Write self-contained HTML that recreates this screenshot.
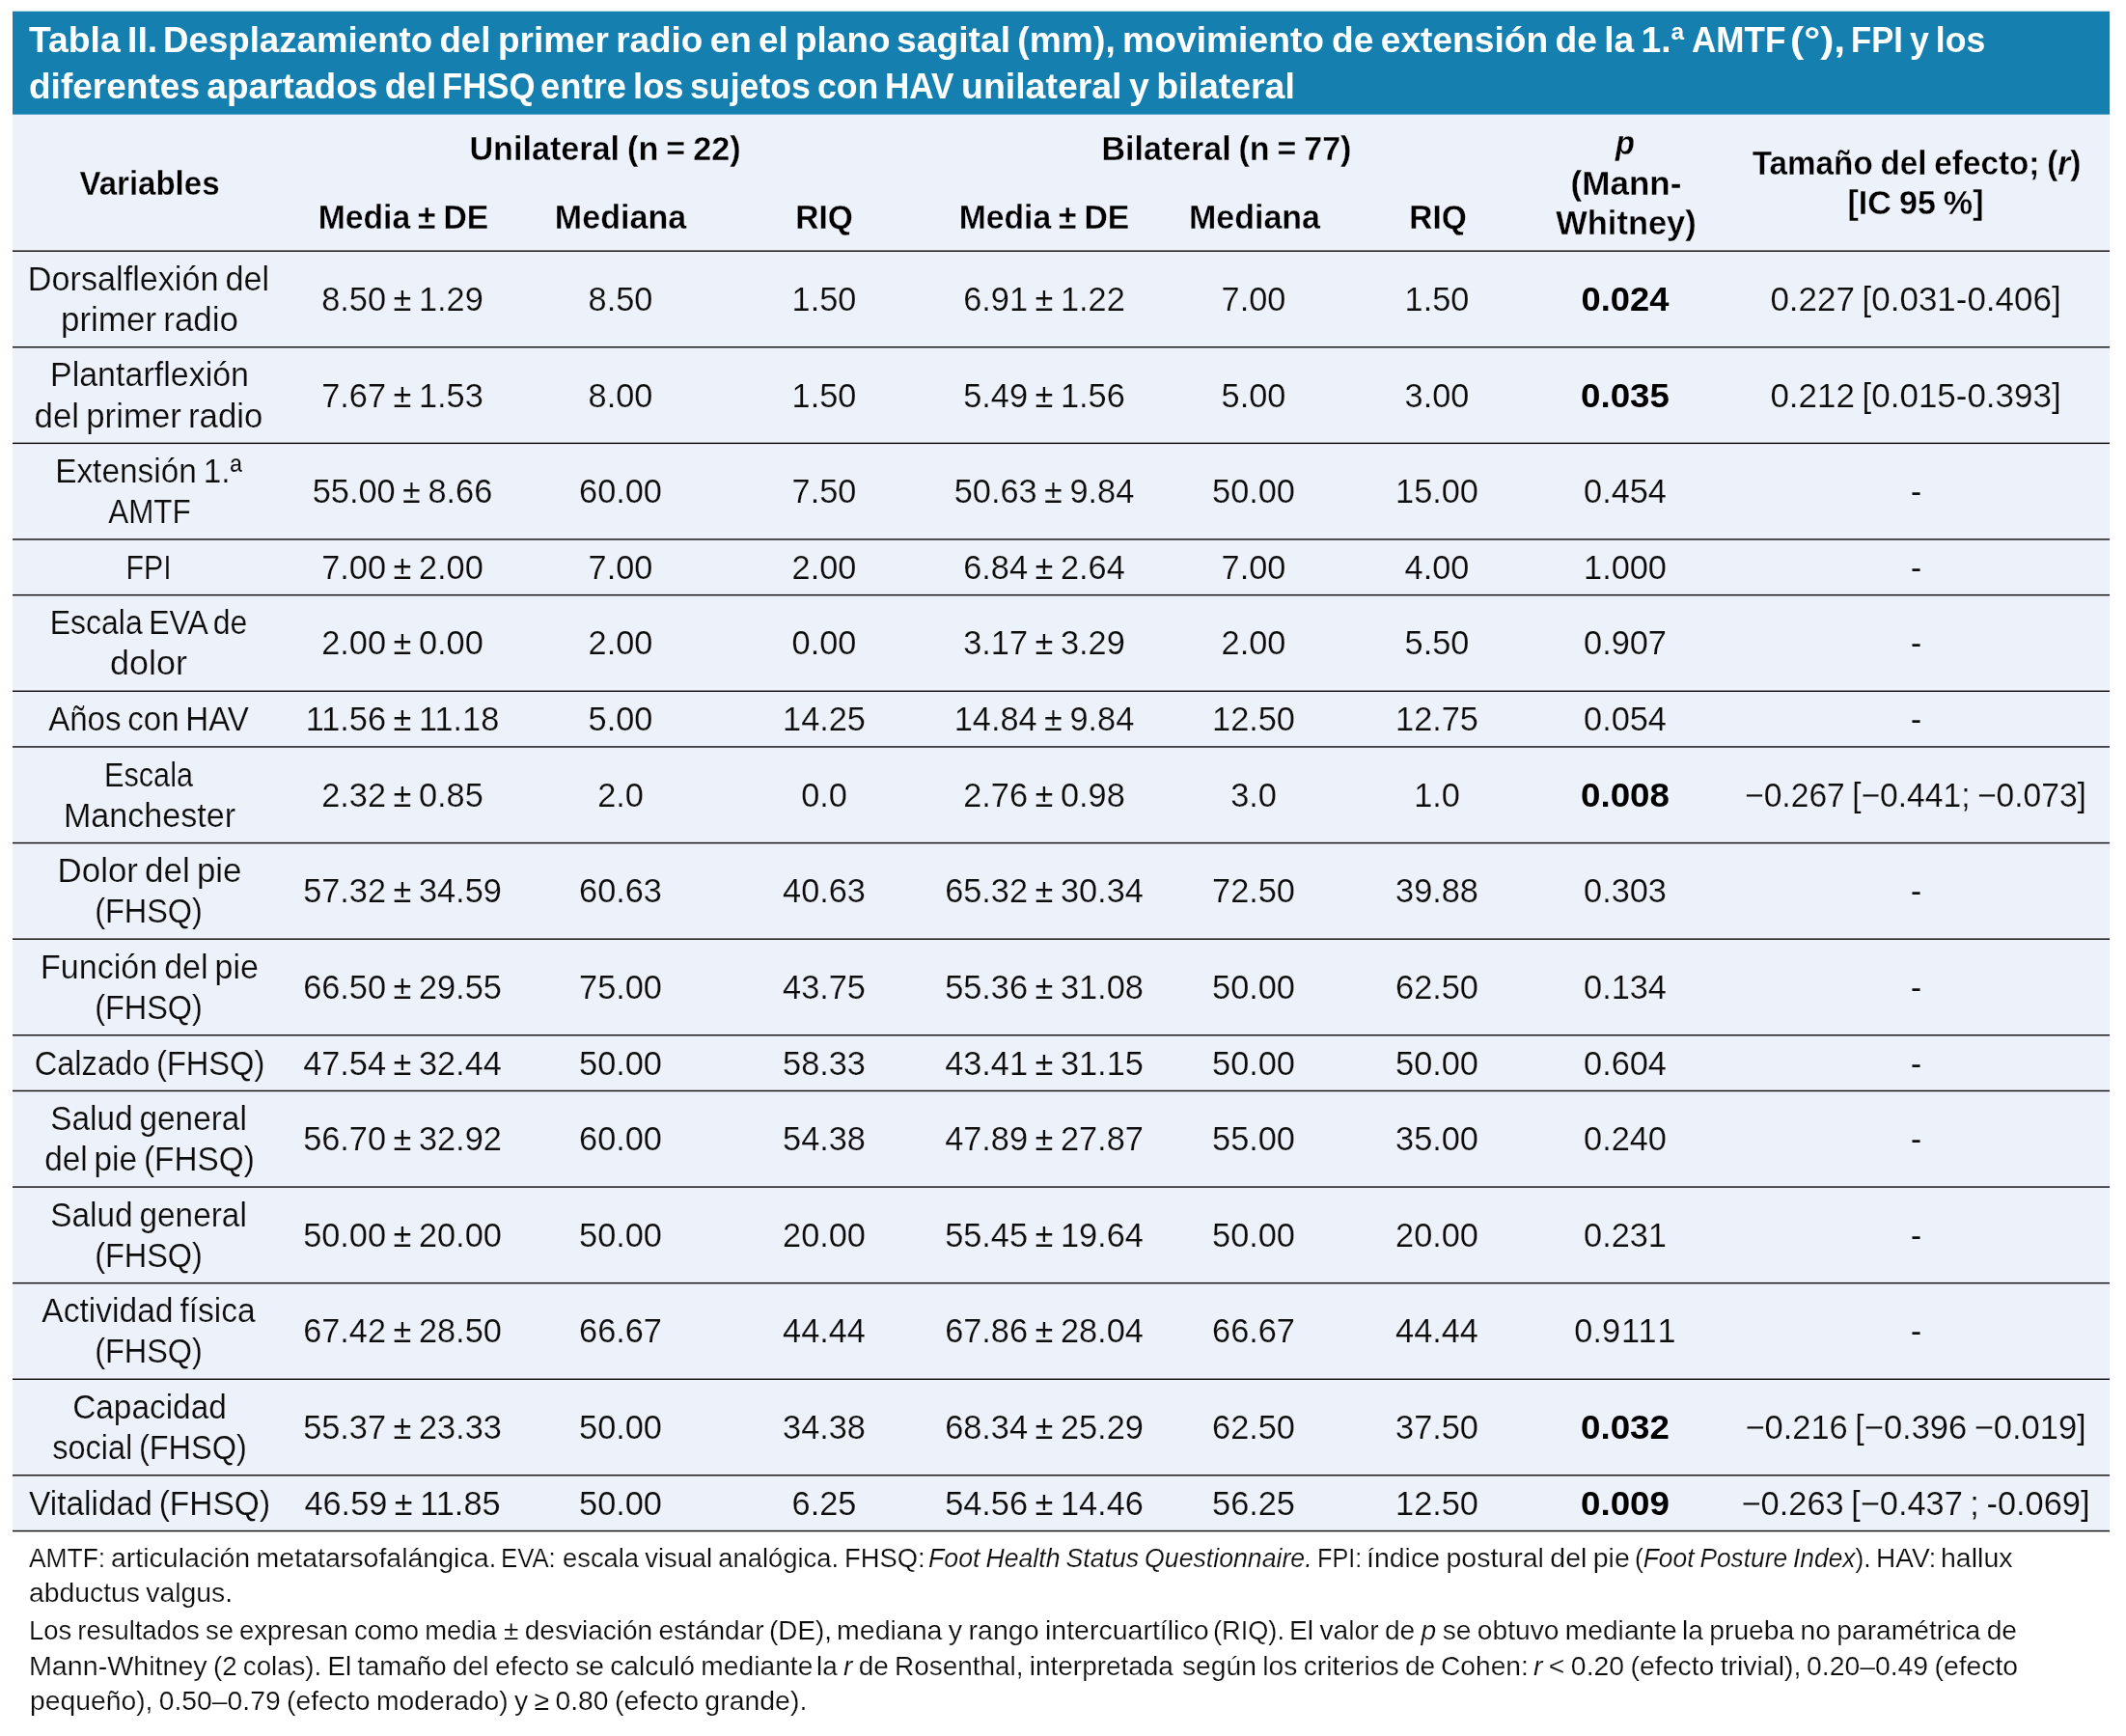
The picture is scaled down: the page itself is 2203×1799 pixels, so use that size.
<!DOCTYPE html>
<html lang="es"><head><meta charset="utf-8"><title>Tabla II</title>
<style>
html,body{margin:0;padding:0;background:#fff;}
body{position:relative;width:2203px;height:1799px;overflow:hidden;font-family:"Liberation Sans", sans-serif;color:#0d0d0d;}
.t{position:absolute;white-space:pre;line-height:0;height:0;}
.c{transform-origin:50% 50%;}
.l{transform-origin:0 50%;}
.b{font-weight:700;}
.th{-webkit-text-stroke:0.2px #edf1f9;}
.tf{-webkit-text-stroke:0.2px #ffffff;}
.thb{-webkit-text-stroke:0.3px #edf1f9;}
i{font-style:italic;}
#w{position:absolute;left:0;top:0;width:2203px;height:1799px;will-change:transform;}
</style></head><body><div id="w">
<svg width="2203" height="1799" viewBox="0 0 2203 1799" style="position:absolute;left:0;top:0"><rect x="13" y="98.65" width="2173.1" height="1487.90" fill="#edf1f9"/><rect x="13" y="11.7" width="2173.1" height="106.95" fill="#1580b0"/><rect x="13" y="259.45" width="2173.1" height="1.4" fill="#0a0a0a"/><rect x="13" y="359.05" width="2173.1" height="1.4" fill="#0a0a0a"/><rect x="13" y="458.65" width="2173.1" height="1.4" fill="#0a0a0a"/><rect x="13" y="558.25" width="2173.1" height="1.4" fill="#0a0a0a"/><rect x="13" y="615.95" width="2173.1" height="1.4" fill="#0a0a0a"/><rect x="13" y="715.55" width="2173.1" height="1.4" fill="#0a0a0a"/><rect x="13" y="773.25" width="2173.1" height="1.4" fill="#0a0a0a"/><rect x="13" y="872.85" width="2173.1" height="1.4" fill="#0a0a0a"/><rect x="13" y="972.45" width="2173.1" height="1.4" fill="#0a0a0a"/><rect x="13" y="1072.05" width="2173.1" height="1.4" fill="#0a0a0a"/><rect x="13" y="1129.75" width="2173.1" height="1.4" fill="#0a0a0a"/><rect x="13" y="1229.35" width="2173.1" height="1.4" fill="#0a0a0a"/><rect x="13" y="1328.95" width="2173.1" height="1.4" fill="#0a0a0a"/><rect x="13" y="1428.55" width="2173.1" height="1.4" fill="#0a0a0a"/><rect x="13" y="1528.15" width="2173.1" height="1.4" fill="#0a0a0a"/><rect x="13" y="1585.85" width="2173.1" height="1.4" fill="#0a0a0a"/></svg>
<div id="t0" class="t l b" style="top:41.02px;font-size:37.6px;color:#ffffff;word-spacing:-3.0px;left:30.00px;transform:scaleX(0.9924);">Tabla II.</div>
<div id="t1" class="t l b" style="top:41.02px;font-size:37.6px;color:#ffffff;word-spacing:-3.0px;left:169.45px;transform:scaleX(0.9759);">Desplazamiento del</div>
<div id="t2" class="t l b" style="top:41.02px;font-size:37.6px;color:#ffffff;word-spacing:-3.0px;left:515.74px;transform:scaleX(0.9818);">primer radio en el plano</div>
<div id="t3" class="t l b" style="top:41.02px;font-size:37.6px;color:#ffffff;word-spacing:-3.0px;left:928.91px;transform:scaleX(0.9910);">sagital (mm), movimiento</div>
<div id="t4" class="t l b" style="top:41.02px;font-size:37.6px;color:#ffffff;word-spacing:-3.0px;left:1380.31px;transform:scaleX(0.9889);">de extensión de la 1.ª</div>
<div id="t5" class="t l b" style="top:41.02px;font-size:37.6px;color:#ffffff;word-spacing:-3.0px;left:1752.57px;transform:scaleX(0.9324);">AMTF</div>
<div id="t6" class="t l b" style="top:41.02px;font-size:37.6px;color:#ffffff;word-spacing:-3.0px;left:1855.03px;transform:scaleX(1.1326);">(°),</div>
<div id="t7" class="t l b" style="top:41.02px;font-size:37.6px;color:#ffffff;word-spacing:-3.0px;left:1918.16px;transform:scaleX(0.9204);">FPI</div>
<div id="t8" class="t l b" style="top:41.02px;font-size:37.6px;color:#ffffff;word-spacing:-3.0px;left:1979.20px;transform:scaleX(0.9481);">y los</div>
<div id="t9" class="t l b" style="top:89.02px;font-size:37.6px;color:#ffffff;word-spacing:-3.0px;left:29.91px;transform:scaleX(0.9856);">diferentes apartados del</div>
<div id="t10" class="t l b" style="top:89.02px;font-size:37.6px;color:#ffffff;word-spacing:-3.0px;left:457.95px;transform:scaleX(0.9238);">FHSQ</div>
<div id="t11" class="t l b" style="top:89.02px;font-size:37.6px;color:#ffffff;word-spacing:-3.0px;left:559.63px;transform:scaleX(0.9669);">entre los</div>
<div id="t12" class="t l b" style="top:89.02px;font-size:37.6px;color:#ffffff;word-spacing:-3.0px;left:714.65px;transform:scaleX(0.9493);">sujetos con</div>
<div id="t13" class="t l b" style="top:89.02px;font-size:37.6px;color:#ffffff;word-spacing:-3.0px;left:916.93px;transform:scaleX(0.9333);">HAV</div>
<div id="t14" class="t l b" style="top:89.02px;font-size:37.6px;color:#ffffff;word-spacing:-3.0px;left:995.61px;transform:scaleX(0.9968);">unilateral y bilateral</div>
<div id="t15" class="t c b thb" style="top:190.02px;font-size:34.5px;color:#000000;word-spacing:-1.5px;left:155.00px;transform:translateX(-50%) scaleX(0.9573);">Variables</div>
<div id="t16" class="t c b thb" style="top:154.02px;font-size:34.5px;color:#000000;word-spacing:-1.5px;left:627.40px;transform:translateX(-50%) scaleX(0.9900);">Unilateral (n = 22)</div>
<div id="t17" class="t c b thb" style="top:154.02px;font-size:34.5px;color:#000000;word-spacing:-1.5px;left:1271.06px;transform:translateX(-50%) scaleX(0.9842);">Bilateral (n = 77)</div>
<div id="t18" class="t c b thb" style="top:225.02px;font-size:34.5px;color:#000000;word-spacing:-1.5px;left:417.96px;transform:translateX(-50%) scaleX(0.9768);">Media ± DE</div>
<div id="t19" class="t c b thb" style="top:225.02px;font-size:34.5px;color:#000000;word-spacing:-1.5px;left:642.66px;transform:translateX(-50%) scaleX(0.9875);">Mediana</div>
<div id="t20" class="t c b thb" style="top:225.02px;font-size:34.5px;color:#000000;word-spacing:-1.5px;left:854.15px;transform:translateX(-50%) scaleX(0.9707);">RIQ</div>
<div id="t21" class="t c b thb" style="top:225.02px;font-size:34.5px;color:#000000;word-spacing:-1.5px;left:1081.86px;transform:translateX(-50%) scaleX(0.9768);">Media ± DE</div>
<div id="t22" class="t c b thb" style="top:225.02px;font-size:34.5px;color:#000000;word-spacing:-1.5px;left:1299.71px;transform:translateX(-50%) scaleX(0.9853);">Mediana</div>
<div id="t23" class="t c b thb" style="top:225.02px;font-size:34.5px;color:#000000;word-spacing:-1.5px;left:1489.65px;transform:translateX(-50%) scaleX(0.9707);">RIQ</div>
<div id="t24" class="t c b thb" style="top:148.02px;font-size:34.5px;color:#000000;word-spacing:-1.5px;left:1683.85px;transform:translateX(-50%) scaleX(0.9450);"><i>p</i></div>
<div id="t25" class="t c b thb" style="top:190.02px;font-size:34.5px;color:#000000;word-spacing:-1.5px;left:1684.75px;transform:translateX(-50%) scaleX(1.0155);">(Mann-</div>
<div id="t26" class="t c b thb" style="top:231.02px;font-size:34.5px;color:#000000;word-spacing:-1.5px;left:1685.20px;transform:translateX(-50%) scaleX(0.9986);">Whitney)</div>
<div id="t27" class="t c b thb" style="top:169.02px;font-size:34.5px;color:#000000;word-spacing:-1.5px;left:1986.11px;transform:translateX(-50%) scaleX(0.9639);">Tamaño del efecto; (<i>r</i>)</div>
<div id="t28" class="t c b thb" style="top:210.02px;font-size:34.5px;color:#000000;word-spacing:-1.5px;left:1985.16px;transform:translateX(-50%) scaleX(0.9878);">[IC 95 %]</div>
<div id="t29" class="t c th" style="top:289.00px;font-size:34.7px;word-spacing:-2.5px;left:154.31px;transform:translateX(-50%) scaleX(0.9855);">Dorsalflexión del</div>
<div id="t30" class="t c th" style="top:331.00px;font-size:34.7px;word-spacing:-2.5px;left:155.15px;transform:translateX(-50%) scaleX(1.0084);">primer radio</div>
<div id="t31" class="t c th" style="top:310.00px;font-size:34.7px;word-spacing:-2.0px;left:417.20px;transform:translateX(-50%) scaleX(0.9890);">8.50 ± 1.29</div>
<div id="t32" class="t c th" style="top:310.00px;font-size:34.7px;word-spacing:-2.0px;left:643.00px;transform:translateX(-50%) scaleX(0.9890);">8.50</div>
<div id="t33" class="t c th" style="top:310.00px;font-size:34.7px;word-spacing:-2.0px;left:853.60px;transform:translateX(-50%) scaleX(0.9890);">1.50</div>
<div id="t34" class="t c th" style="top:310.00px;font-size:34.7px;word-spacing:-2.0px;left:1081.50px;transform:translateX(-50%) scaleX(0.9890);">6.91 ± 1.22</div>
<div id="t35" class="t c th" style="top:310.00px;font-size:34.7px;word-spacing:-2.0px;left:1299.30px;transform:translateX(-50%) scaleX(0.9890);">7.00</div>
<div id="t36" class="t c th" style="top:310.00px;font-size:34.7px;word-spacing:-2.0px;left:1489.40px;transform:translateX(-50%) scaleX(0.9890);">1.50</div>
<div id="t37" class="t c b" style="top:310.01px;font-size:34.9px;color:#000000;left:1683.53px;transform:translateX(-50%) scaleX(1.0402);">0.024</div>
<div id="t38" class="t c th" style="top:310.00px;font-size:34.7px;word-spacing:-2.0px;left:1985.05px;transform:translateX(-50%) scaleX(1.0078);">0.227 [0.031-0.406]</div>
<div id="t39" class="t c th" style="top:388.00px;font-size:34.7px;word-spacing:-2.5px;left:154.51px;transform:translateX(-50%) scaleX(0.9805);">Plantarflexión</div>
<div id="t40" class="t c th" style="top:431.00px;font-size:34.7px;word-spacing:-2.5px;left:154.35px;transform:translateX(-50%) scaleX(1.0038);">del primer radio</div>
<div id="t41" class="t c th" style="top:410.00px;font-size:34.7px;word-spacing:-2.0px;left:417.20px;transform:translateX(-50%) scaleX(0.9890);">7.67 ± 1.53</div>
<div id="t42" class="t c th" style="top:410.00px;font-size:34.7px;word-spacing:-2.0px;left:643.00px;transform:translateX(-50%) scaleX(0.9890);">8.00</div>
<div id="t43" class="t c th" style="top:410.00px;font-size:34.7px;word-spacing:-2.0px;left:853.60px;transform:translateX(-50%) scaleX(0.9890);">1.50</div>
<div id="t44" class="t c th" style="top:410.00px;font-size:34.7px;word-spacing:-2.0px;left:1081.50px;transform:translateX(-50%) scaleX(0.9890);">5.49 ± 1.56</div>
<div id="t45" class="t c th" style="top:410.00px;font-size:34.7px;word-spacing:-2.0px;left:1299.30px;transform:translateX(-50%) scaleX(0.9890);">5.00</div>
<div id="t46" class="t c th" style="top:410.00px;font-size:34.7px;word-spacing:-2.0px;left:1489.40px;transform:translateX(-50%) scaleX(0.9890);">3.00</div>
<div id="t47" class="t c b" style="top:410.01px;font-size:34.9px;color:#000000;left:1684.05px;transform:translateX(-50%) scaleX(1.0523);">0.035</div>
<div id="t48" class="t c th" style="top:410.00px;font-size:34.7px;word-spacing:-2.0px;left:1985.05px;transform:translateX(-50%) scaleX(1.0078);">0.212 [0.015-0.393]</div>
<div id="t49" class="t c th" style="top:488.00px;font-size:34.7px;word-spacing:-2.5px;left:153.51px;transform:translateX(-50%) scaleX(0.9623);">Extensión 1.ª</div>
<div id="t50" class="t c th" style="top:530.00px;font-size:34.7px;word-spacing:-2.5px;left:154.80px;transform:translateX(-50%) scaleX(0.9065);">AMTF</div>
<div id="t51" class="t c th" style="top:509.00px;font-size:34.7px;word-spacing:-2.0px;left:417.20px;transform:translateX(-50%) scaleX(0.9890);">55.00 ± 8.66</div>
<div id="t52" class="t c th" style="top:509.00px;font-size:34.7px;word-spacing:-2.0px;left:643.00px;transform:translateX(-50%) scaleX(0.9890);">60.00</div>
<div id="t53" class="t c th" style="top:509.00px;font-size:34.7px;word-spacing:-2.0px;left:853.60px;transform:translateX(-50%) scaleX(0.9890);">7.50</div>
<div id="t54" class="t c th" style="top:509.00px;font-size:34.7px;word-spacing:-2.0px;left:1081.50px;transform:translateX(-50%) scaleX(0.9890);">50.63 ± 9.84</div>
<div id="t55" class="t c th" style="top:509.00px;font-size:34.7px;word-spacing:-2.0px;left:1299.30px;transform:translateX(-50%) scaleX(0.9890);">50.00</div>
<div id="t56" class="t c th" style="top:509.00px;font-size:34.7px;word-spacing:-2.0px;left:1489.40px;transform:translateX(-50%) scaleX(0.9890);">15.00</div>
<div id="t57" class="t c th" style="top:509.00px;font-size:34.7px;left:1684.00px;transform:translateX(-50%) scaleX(0.9890);">0.454</div>
<div id="t58" class="t c th" style="top:509.00px;font-size:34.7px;left:1985.60px;transform:translateX(-50%);">-</div>
<div id="t59" class="t c th" style="top:588.00px;font-size:34.7px;word-spacing:-2.5px;left:154.45px;transform:translateX(-50%) scaleX(0.8729);">FPI</div>
<div id="t60" class="t c th" style="top:588.00px;font-size:34.7px;word-spacing:-2.0px;left:417.20px;transform:translateX(-50%) scaleX(0.9890);">7.00 ± 2.00</div>
<div id="t61" class="t c th" style="top:588.00px;font-size:34.7px;word-spacing:-2.0px;left:643.00px;transform:translateX(-50%) scaleX(0.9890);">7.00</div>
<div id="t62" class="t c th" style="top:588.00px;font-size:34.7px;word-spacing:-2.0px;left:853.60px;transform:translateX(-50%) scaleX(0.9890);">2.00</div>
<div id="t63" class="t c th" style="top:588.00px;font-size:34.7px;word-spacing:-2.0px;left:1081.50px;transform:translateX(-50%) scaleX(0.9890);">6.84 ± 2.64</div>
<div id="t64" class="t c th" style="top:588.00px;font-size:34.7px;word-spacing:-2.0px;left:1299.30px;transform:translateX(-50%) scaleX(0.9890);">7.00</div>
<div id="t65" class="t c th" style="top:588.00px;font-size:34.7px;word-spacing:-2.0px;left:1489.40px;transform:translateX(-50%) scaleX(0.9890);">4.00</div>
<div id="t66" class="t c th" style="top:588.00px;font-size:34.7px;left:1684.00px;transform:translateX(-50%) scaleX(0.9890);">1.000</div>
<div id="t67" class="t c th" style="top:588.00px;font-size:34.7px;left:1985.60px;transform:translateX(-50%);">-</div>
<div id="t68" class="t c th" style="top:645.00px;font-size:34.7px;word-spacing:-2.5px;left:154.08px;transform:translateX(-50%) scaleX(0.9220);">Escala EVA de</div>
<div id="t69" class="t c th" style="top:687.00px;font-size:34.7px;word-spacing:-2.5px;left:154.43px;transform:translateX(-50%) scaleX(1.0360);">dolor</div>
<div id="t70" class="t c th" style="top:666.00px;font-size:34.7px;word-spacing:-2.0px;left:417.20px;transform:translateX(-50%) scaleX(0.9890);">2.00 ± 0.00</div>
<div id="t71" class="t c th" style="top:666.00px;font-size:34.7px;word-spacing:-2.0px;left:643.00px;transform:translateX(-50%) scaleX(0.9890);">2.00</div>
<div id="t72" class="t c th" style="top:666.00px;font-size:34.7px;word-spacing:-2.0px;left:853.60px;transform:translateX(-50%) scaleX(0.9890);">0.00</div>
<div id="t73" class="t c th" style="top:666.00px;font-size:34.7px;word-spacing:-2.0px;left:1081.50px;transform:translateX(-50%) scaleX(0.9890);">3.17 ± 3.29</div>
<div id="t74" class="t c th" style="top:666.00px;font-size:34.7px;word-spacing:-2.0px;left:1299.30px;transform:translateX(-50%) scaleX(0.9890);">2.00</div>
<div id="t75" class="t c th" style="top:666.00px;font-size:34.7px;word-spacing:-2.0px;left:1489.40px;transform:translateX(-50%) scaleX(0.9890);">5.50</div>
<div id="t76" class="t c th" style="top:666.00px;font-size:34.7px;left:1684.00px;transform:translateX(-50%) scaleX(0.9890);">0.907</div>
<div id="t77" class="t c th" style="top:666.00px;font-size:34.7px;left:1985.60px;transform:translateX(-50%);">-</div>
<div id="t78" class="t c th" style="top:745.00px;font-size:34.7px;word-spacing:-2.5px;left:153.85px;transform:translateX(-50%) scaleX(0.9528);">Años con HAV</div>
<div id="t79" class="t c th" style="top:745.00px;font-size:34.7px;word-spacing:-2.0px;left:417.20px;transform:translateX(-50%) scaleX(0.9890);">11.56 ± 11.18</div>
<div id="t80" class="t c th" style="top:745.00px;font-size:34.7px;word-spacing:-2.0px;left:643.00px;transform:translateX(-50%) scaleX(0.9890);">5.00</div>
<div id="t81" class="t c th" style="top:745.00px;font-size:34.7px;word-spacing:-2.0px;left:853.60px;transform:translateX(-50%) scaleX(0.9890);">14.25</div>
<div id="t82" class="t c th" style="top:745.00px;font-size:34.7px;word-spacing:-2.0px;left:1081.50px;transform:translateX(-50%) scaleX(0.9890);">14.84 ± 9.84</div>
<div id="t83" class="t c th" style="top:745.00px;font-size:34.7px;word-spacing:-2.0px;left:1299.30px;transform:translateX(-50%) scaleX(0.9890);">12.50</div>
<div id="t84" class="t c th" style="top:745.00px;font-size:34.7px;word-spacing:-2.0px;left:1489.40px;transform:translateX(-50%) scaleX(0.9890);">12.75</div>
<div id="t85" class="t c th" style="top:745.00px;font-size:34.7px;left:1684.00px;transform:translateX(-50%) scaleX(0.9890);">0.054</div>
<div id="t86" class="t c th" style="top:745.00px;font-size:34.7px;left:1985.60px;transform:translateX(-50%);">-</div>
<div id="t87" class="t c th" style="top:803.00px;font-size:34.7px;word-spacing:-2.5px;left:153.72px;transform:translateX(-50%) scaleX(0.8842);">Escala</div>
<div id="t88" class="t c th" style="top:845.00px;font-size:34.7px;word-spacing:-2.5px;left:154.52px;transform:translateX(-50%) scaleX(0.9831);">Manchester</div>
<div id="t89" class="t c th" style="top:824.00px;font-size:34.7px;word-spacing:-2.0px;left:417.20px;transform:translateX(-50%) scaleX(0.9890);">2.32 ± 0.85</div>
<div id="t90" class="t c th" style="top:824.00px;font-size:34.7px;word-spacing:-2.0px;left:643.00px;transform:translateX(-50%) scaleX(0.9890);">2.0</div>
<div id="t91" class="t c th" style="top:824.00px;font-size:34.7px;word-spacing:-2.0px;left:853.60px;transform:translateX(-50%) scaleX(0.9890);">0.0</div>
<div id="t92" class="t c th" style="top:824.00px;font-size:34.7px;word-spacing:-2.0px;left:1081.50px;transform:translateX(-50%) scaleX(0.9890);">2.76 ± 0.98</div>
<div id="t93" class="t c th" style="top:824.00px;font-size:34.7px;word-spacing:-2.0px;left:1299.30px;transform:translateX(-50%) scaleX(0.9890);">3.0</div>
<div id="t94" class="t c th" style="top:824.00px;font-size:34.7px;word-spacing:-2.0px;left:1489.40px;transform:translateX(-50%) scaleX(0.9890);">1.0</div>
<div id="t95" class="t c b" style="top:824.01px;font-size:34.9px;color:#000000;left:1684.05px;transform:translateX(-50%) scaleX(1.0523);">0.008</div>
<div id="t96" class="t c th" style="top:824.00px;font-size:34.7px;word-spacing:-2.0px;left:1984.80px;transform:translateX(-50%) scaleX(0.9685);">−0.267 [−0.441; −0.073]</div>
<div id="t97" class="t c th" style="top:902.00px;font-size:34.7px;word-spacing:-2.5px;left:154.89px;transform:translateX(-50%) scaleX(1.0065);">Dolor del pie</div>
<div id="t98" class="t c th" style="top:944.00px;font-size:34.7px;word-spacing:-2.5px;left:154.15px;transform:translateX(-50%) scaleX(0.9353);">(FHSQ)</div>
<div id="t99" class="t c th" style="top:923.00px;font-size:34.7px;word-spacing:-2.0px;left:417.20px;transform:translateX(-50%) scaleX(0.9890);">57.32 ± 34.59</div>
<div id="t100" class="t c th" style="top:923.00px;font-size:34.7px;word-spacing:-2.0px;left:643.00px;transform:translateX(-50%) scaleX(0.9890);">60.63</div>
<div id="t101" class="t c th" style="top:923.00px;font-size:34.7px;word-spacing:-2.0px;left:853.60px;transform:translateX(-50%) scaleX(0.9890);">40.63</div>
<div id="t102" class="t c th" style="top:923.00px;font-size:34.7px;word-spacing:-2.0px;left:1081.50px;transform:translateX(-50%) scaleX(0.9890);">65.32 ± 30.34</div>
<div id="t103" class="t c th" style="top:923.00px;font-size:34.7px;word-spacing:-2.0px;left:1299.30px;transform:translateX(-50%) scaleX(0.9890);">72.50</div>
<div id="t104" class="t c th" style="top:923.00px;font-size:34.7px;word-spacing:-2.0px;left:1489.40px;transform:translateX(-50%) scaleX(0.9890);">39.88</div>
<div id="t105" class="t c th" style="top:923.00px;font-size:34.7px;left:1684.00px;transform:translateX(-50%) scaleX(0.9890);">0.303</div>
<div id="t106" class="t c th" style="top:923.00px;font-size:34.7px;left:1985.60px;transform:translateX(-50%);">-</div>
<div id="t107" class="t c th" style="top:1002.00px;font-size:34.7px;word-spacing:-2.5px;left:155.16px;transform:translateX(-50%) scaleX(0.9819);">Función del pie</div>
<div id="t108" class="t c th" style="top:1044.00px;font-size:34.7px;word-spacing:-2.5px;left:154.15px;transform:translateX(-50%) scaleX(0.9353);">(FHSQ)</div>
<div id="t109" class="t c th" style="top:1023.00px;font-size:34.7px;word-spacing:-2.0px;left:417.20px;transform:translateX(-50%) scaleX(0.9890);">66.50 ± 29.55</div>
<div id="t110" class="t c th" style="top:1023.00px;font-size:34.7px;word-spacing:-2.0px;left:643.00px;transform:translateX(-50%) scaleX(0.9890);">75.00</div>
<div id="t111" class="t c th" style="top:1023.00px;font-size:34.7px;word-spacing:-2.0px;left:853.60px;transform:translateX(-50%) scaleX(0.9890);">43.75</div>
<div id="t112" class="t c th" style="top:1023.00px;font-size:34.7px;word-spacing:-2.0px;left:1081.50px;transform:translateX(-50%) scaleX(0.9890);">55.36 ± 31.08</div>
<div id="t113" class="t c th" style="top:1023.00px;font-size:34.7px;word-spacing:-2.0px;left:1299.30px;transform:translateX(-50%) scaleX(0.9890);">50.00</div>
<div id="t114" class="t c th" style="top:1023.00px;font-size:34.7px;word-spacing:-2.0px;left:1489.40px;transform:translateX(-50%) scaleX(0.9890);">62.50</div>
<div id="t115" class="t c th" style="top:1023.00px;font-size:34.7px;left:1684.00px;transform:translateX(-50%) scaleX(0.9890);">0.134</div>
<div id="t116" class="t c th" style="top:1023.00px;font-size:34.7px;left:1985.60px;transform:translateX(-50%);">-</div>
<div id="t117" class="t c th" style="top:1102.00px;font-size:34.7px;word-spacing:-2.5px;left:155.20px;transform:translateX(-50%) scaleX(0.9400);">Calzado (FHSQ)</div>
<div id="t118" class="t c th" style="top:1102.00px;font-size:34.7px;word-spacing:-2.0px;left:417.20px;transform:translateX(-50%) scaleX(0.9890);">47.54 ± 32.44</div>
<div id="t119" class="t c th" style="top:1102.00px;font-size:34.7px;word-spacing:-2.0px;left:643.00px;transform:translateX(-50%) scaleX(0.9890);">50.00</div>
<div id="t120" class="t c th" style="top:1102.00px;font-size:34.7px;word-spacing:-2.0px;left:853.60px;transform:translateX(-50%) scaleX(0.9890);">58.33</div>
<div id="t121" class="t c th" style="top:1102.00px;font-size:34.7px;word-spacing:-2.0px;left:1081.50px;transform:translateX(-50%) scaleX(0.9890);">43.41 ± 31.15</div>
<div id="t122" class="t c th" style="top:1102.00px;font-size:34.7px;word-spacing:-2.0px;left:1299.30px;transform:translateX(-50%) scaleX(0.9890);">50.00</div>
<div id="t123" class="t c th" style="top:1102.00px;font-size:34.7px;word-spacing:-2.0px;left:1489.40px;transform:translateX(-50%) scaleX(0.9890);">50.00</div>
<div id="t124" class="t c th" style="top:1102.00px;font-size:34.7px;left:1684.00px;transform:translateX(-50%) scaleX(0.9890);">0.604</div>
<div id="t125" class="t c th" style="top:1102.00px;font-size:34.7px;left:1985.60px;transform:translateX(-50%);">-</div>
<div id="t126" class="t c th" style="top:1159.00px;font-size:34.7px;word-spacing:-2.5px;left:154.20px;transform:translateX(-50%) scaleX(0.9625);">Salud general</div>
<div id="t127" class="t c th" style="top:1201.00px;font-size:34.7px;word-spacing:-2.5px;left:154.63px;transform:translateX(-50%) scaleX(0.9619);">del pie (FHSQ)</div>
<div id="t128" class="t c th" style="top:1180.00px;font-size:34.7px;word-spacing:-2.0px;left:417.20px;transform:translateX(-50%) scaleX(0.9890);">56.70 ± 32.92</div>
<div id="t129" class="t c th" style="top:1180.00px;font-size:34.7px;word-spacing:-2.0px;left:643.00px;transform:translateX(-50%) scaleX(0.9890);">60.00</div>
<div id="t130" class="t c th" style="top:1180.00px;font-size:34.7px;word-spacing:-2.0px;left:853.60px;transform:translateX(-50%) scaleX(0.9890);">54.38</div>
<div id="t131" class="t c th" style="top:1180.00px;font-size:34.7px;word-spacing:-2.0px;left:1081.50px;transform:translateX(-50%) scaleX(0.9890);">47.89 ± 27.87</div>
<div id="t132" class="t c th" style="top:1180.00px;font-size:34.7px;word-spacing:-2.0px;left:1299.30px;transform:translateX(-50%) scaleX(0.9890);">55.00</div>
<div id="t133" class="t c th" style="top:1180.00px;font-size:34.7px;word-spacing:-2.0px;left:1489.40px;transform:translateX(-50%) scaleX(0.9890);">35.00</div>
<div id="t134" class="t c th" style="top:1180.00px;font-size:34.7px;left:1684.00px;transform:translateX(-50%) scaleX(0.9890);">0.240</div>
<div id="t135" class="t c th" style="top:1180.00px;font-size:34.7px;left:1985.60px;transform:translateX(-50%);">-</div>
<div id="t136" class="t c th" style="top:1259.00px;font-size:34.7px;word-spacing:-2.5px;left:154.20px;transform:translateX(-50%) scaleX(0.9625);">Salud general</div>
<div id="t137" class="t c th" style="top:1301.00px;font-size:34.7px;word-spacing:-2.5px;left:154.15px;transform:translateX(-50%) scaleX(0.9353);">(FHSQ)</div>
<div id="t138" class="t c th" style="top:1280.00px;font-size:34.7px;word-spacing:-2.0px;left:417.20px;transform:translateX(-50%) scaleX(0.9890);">50.00 ± 20.00</div>
<div id="t139" class="t c th" style="top:1280.00px;font-size:34.7px;word-spacing:-2.0px;left:643.00px;transform:translateX(-50%) scaleX(0.9890);">50.00</div>
<div id="t140" class="t c th" style="top:1280.00px;font-size:34.7px;word-spacing:-2.0px;left:853.60px;transform:translateX(-50%) scaleX(0.9890);">20.00</div>
<div id="t141" class="t c th" style="top:1280.00px;font-size:34.7px;word-spacing:-2.0px;left:1081.50px;transform:translateX(-50%) scaleX(0.9890);">55.45 ± 19.64</div>
<div id="t142" class="t c th" style="top:1280.00px;font-size:34.7px;word-spacing:-2.0px;left:1299.30px;transform:translateX(-50%) scaleX(0.9890);">50.00</div>
<div id="t143" class="t c th" style="top:1280.00px;font-size:34.7px;word-spacing:-2.0px;left:1489.40px;transform:translateX(-50%) scaleX(0.9890);">20.00</div>
<div id="t144" class="t c th" style="top:1280.00px;font-size:34.7px;left:1684.00px;transform:translateX(-50%) scaleX(0.9890);">0.231</div>
<div id="t145" class="t c th" style="top:1280.00px;font-size:34.7px;left:1985.60px;transform:translateX(-50%);">-</div>
<div id="t146" class="t c th" style="top:1358.00px;font-size:34.7px;word-spacing:-2.5px;left:153.52px;transform:translateX(-50%) scaleX(0.9677);">Actividad física</div>
<div id="t147" class="t c th" style="top:1400.00px;font-size:34.7px;word-spacing:-2.5px;left:154.15px;transform:translateX(-50%) scaleX(0.9353);">(FHSQ)</div>
<div id="t148" class="t c th" style="top:1379.00px;font-size:34.7px;word-spacing:-2.0px;left:417.20px;transform:translateX(-50%) scaleX(0.9890);">67.42 ± 28.50</div>
<div id="t149" class="t c th" style="top:1379.00px;font-size:34.7px;word-spacing:-2.0px;left:643.00px;transform:translateX(-50%) scaleX(0.9890);">66.67</div>
<div id="t150" class="t c th" style="top:1379.00px;font-size:34.7px;word-spacing:-2.0px;left:853.60px;transform:translateX(-50%) scaleX(0.9890);">44.44</div>
<div id="t151" class="t c th" style="top:1379.00px;font-size:34.7px;word-spacing:-2.0px;left:1081.50px;transform:translateX(-50%) scaleX(0.9890);">67.86 ± 28.04</div>
<div id="t152" class="t c th" style="top:1379.00px;font-size:34.7px;word-spacing:-2.0px;left:1299.30px;transform:translateX(-50%) scaleX(0.9890);">66.67</div>
<div id="t153" class="t c th" style="top:1379.00px;font-size:34.7px;word-spacing:-2.0px;left:1489.40px;transform:translateX(-50%) scaleX(0.9890);">44.44</div>
<div id="t154" class="t c th" style="top:1379.00px;font-size:34.7px;left:1684.00px;transform:translateX(-50%) scaleX(0.9890);">0.<span style="letter-spacing:1px">911</span>1</div>
<div id="t155" class="t c th" style="top:1379.00px;font-size:34.7px;left:1985.60px;transform:translateX(-50%);">-</div>
<div id="t156" class="t c th" style="top:1458.00px;font-size:34.7px;word-spacing:-2.5px;left:154.60px;transform:translateX(-50%) scaleX(0.9630);">Capacidad</div>
<div id="t157" class="t c th" style="top:1500.00px;font-size:34.7px;word-spacing:-2.5px;left:154.97px;transform:translateX(-50%) scaleX(0.9371);">social (FHSQ)</div>
<div id="t158" class="t c th" style="top:1479.00px;font-size:34.7px;word-spacing:-2.0px;left:417.20px;transform:translateX(-50%) scaleX(0.9890);">55.37 ± 23.33</div>
<div id="t159" class="t c th" style="top:1479.00px;font-size:34.7px;word-spacing:-2.0px;left:643.00px;transform:translateX(-50%) scaleX(0.9890);">50.00</div>
<div id="t160" class="t c th" style="top:1479.00px;font-size:34.7px;word-spacing:-2.0px;left:853.60px;transform:translateX(-50%) scaleX(0.9890);">34.38</div>
<div id="t161" class="t c th" style="top:1479.00px;font-size:34.7px;word-spacing:-2.0px;left:1081.50px;transform:translateX(-50%) scaleX(0.9890);">68.34 ± 25.29</div>
<div id="t162" class="t c th" style="top:1479.00px;font-size:34.7px;word-spacing:-2.0px;left:1299.30px;transform:translateX(-50%) scaleX(0.9890);">62.50</div>
<div id="t163" class="t c th" style="top:1479.00px;font-size:34.7px;word-spacing:-2.0px;left:1489.40px;transform:translateX(-50%) scaleX(0.9890);">37.50</div>
<div id="t164" class="t c b" style="top:1479.01px;font-size:34.9px;color:#000000;left:1684.05px;transform:translateX(-50%) scaleX(1.0523);">0.032</div>
<div id="t165" class="t c th" style="top:1479.00px;font-size:34.7px;word-spacing:-2.0px;left:1985.25px;transform:translateX(-50%) scaleX(0.9929);">−0.216 [−0.396 −0.019]</div>
<div id="t166" class="t c th" style="top:1558.00px;font-size:34.7px;word-spacing:-2.5px;left:154.73px;transform:translateX(-50%) scaleX(0.9654);">Vitalidad (FHSQ)</div>
<div id="t167" class="t c th" style="top:1558.00px;font-size:34.7px;word-spacing:-2.0px;left:417.20px;transform:translateX(-50%) scaleX(0.9890);">46.59 ± 11.85</div>
<div id="t168" class="t c th" style="top:1558.00px;font-size:34.7px;word-spacing:-2.0px;left:643.00px;transform:translateX(-50%) scaleX(0.9890);">50.00</div>
<div id="t169" class="t c th" style="top:1558.00px;font-size:34.7px;word-spacing:-2.0px;left:853.60px;transform:translateX(-50%) scaleX(0.9890);">6.25</div>
<div id="t170" class="t c th" style="top:1558.00px;font-size:34.7px;word-spacing:-2.0px;left:1081.50px;transform:translateX(-50%) scaleX(0.9890);">54.56 ± 14.46</div>
<div id="t171" class="t c th" style="top:1558.00px;font-size:34.7px;word-spacing:-2.0px;left:1299.30px;transform:translateX(-50%) scaleX(0.9890);">56.25</div>
<div id="t172" class="t c th" style="top:1558.00px;font-size:34.7px;word-spacing:-2.0px;left:1489.40px;transform:translateX(-50%) scaleX(0.9890);">12.50</div>
<div id="t173" class="t c b" style="top:1558.01px;font-size:34.9px;color:#000000;left:1684.05px;transform:translateX(-50%) scaleX(1.0523);">0.009</div>
<div id="t174" class="t c th" style="top:1558.00px;font-size:34.7px;word-spacing:-2.0px;left:1985.10px;transform:translateX(-50%) scaleX(0.9906);">−0.263 [−0.437 ; -0.069]</div>
<div id="t175" class="t l tf" style="top:1614.02px;font-size:28.5px;word-spacing:-1.5px;left:30.20px;transform:scaleX(0.9253);">AMTF:</div>
<div id="t176" class="t l tf" style="top:1614.02px;font-size:28.5px;word-spacing:-1.5px;left:114.70px;transform:scaleX(1.0003);">articulación metatarsofalángica.</div>
<div id="t177" class="t l tf" style="top:1614.02px;font-size:28.5px;word-spacing:-1.5px;left:519.39px;transform:scaleX(0.9034);">EVA:</div>
<div id="t178" class="t l tf" style="top:1614.02px;font-size:28.5px;word-spacing:-1.5px;left:582.94px;transform:scaleX(0.9597);">escala visual analógica.</div>
<div id="t179" class="t l tf" style="top:1614.02px;font-size:28.5px;word-spacing:-1.5px;left:874.88px;transform:scaleX(0.9602);">FHSQ:</div>
<div id="t180" class="t l tf" style="top:1614.02px;font-size:28.5px;word-spacing:-1.5px;left:961.86px;transform:scaleX(0.9359);"><i>Foot Health Status Questionnaire.</i></div>
<div id="t181" class="t l tf" style="top:1614.02px;font-size:28.5px;word-spacing:-1.5px;left:1364.73px;transform:scaleX(0.8854);">FPI:</div>
<div id="t182" class="t l tf" style="top:1614.02px;font-size:28.5px;word-spacing:-1.5px;left:1416.00px;">índice postural del pie</div>
<div id="t183" class="t l tf" style="top:1614.02px;font-size:28.5px;word-spacing:-1.5px;left:1694.15px;transform:scaleX(0.9238);">(<i>Foot Posture Index</i>).</div>
<div id="t184" class="t l tf" style="top:1614.02px;font-size:28.5px;word-spacing:-1.5px;left:1943.63px;transform:scaleX(0.9847);">HAV:</div>
<div id="t185" class="t l tf" style="top:1614.02px;font-size:28.5px;word-spacing:-1.5px;left:2010.70px;transform:scaleX(1.0014);">hallux</div>
<div id="t186" class="t l tf" style="top:1650.02px;font-size:28.5px;word-spacing:-1.5px;left:29.91px;transform:scaleX(0.9938);">abductus valgus.</div>
<div id="t187" class="t l tf" style="top:1689.02px;font-size:28.5px;word-spacing:-1.5px;left:30.38px;transform:scaleX(0.9616);">Los resultados se expresan como media</div>
<div id="t188" class="t l tf" style="top:1689.02px;font-size:28.5px;word-spacing:-1.5px;left:522.02px;transform:scaleX(0.9839);">± desviación estándar</div>
<div id="t189" class="t l tf" style="top:1689.02px;font-size:28.5px;word-spacing:-1.5px;left:797.05px;transform:scaleX(0.9774);">(DE),</div>
<div id="t190" class="t l tf" style="top:1689.02px;font-size:28.5px;word-spacing:-1.5px;left:866.60px;transform:scaleX(1.0010);">mediana y rango intercuartílico</div>
<div id="t191" class="t l tf" style="top:1689.02px;font-size:28.5px;word-spacing:-1.5px;left:1256.69px;transform:scaleX(0.9534);">(RIQ).</div>
<div id="t192" class="t l tf" style="top:1689.02px;font-size:28.5px;word-spacing:-1.5px;left:1336.02px;transform:scaleX(0.9893);">El valor de <i>p</i> se obtuvo mediante</div>
<div id="t193" class="t l tf" style="top:1689.02px;font-size:28.5px;word-spacing:-1.5px;left:1742.72px;transform:scaleX(0.9902);">la prueba no paramétrica de</div>
<div id="t194" class="t l tf" style="top:1726.02px;font-size:28.5px;word-spacing:-1.5px;left:29.99px;transform:scaleX(1.0049);">Mann-Whitney</div>
<div id="t195" class="t l tf" style="top:1726.02px;font-size:28.5px;word-spacing:-1.5px;left:220.66px;transform:scaleX(0.9703);">(2 colas). El tamaño</div>
<div id="t196" class="t l tf" style="top:1726.02px;font-size:28.5px;word-spacing:-1.5px;left:468.71px;transform:scaleX(0.9893);">del efecto se calculó mediante</div>
<div id="t197" class="t l tf" style="top:1726.02px;font-size:28.5px;word-spacing:-1.5px;left:846.44px;transform:scaleX(0.9801);">la <i>r</i> de Rosenthal, interpretada</div>
<div id="t198" class="t l tf" style="top:1726.02px;font-size:28.5px;word-spacing:-1.5px;left:1224.61px;transform:scaleX(0.9905);">según los criterios de</div>
<div id="t199" class="t l tf" style="top:1726.02px;font-size:28.5px;word-spacing:-1.5px;left:1492.81px;transform:scaleX(0.9888);">Cohen:</div>
<div id="t200" class="t l tf" style="top:1726.02px;font-size:28.5px;word-spacing:-1.5px;left:1588.80px;transform:scaleX(0.9964);"><i>r</i> &lt; 0.20 (efecto trivial),</div>
<div id="t201" class="t l tf" style="top:1726.02px;font-size:28.5px;word-spacing:-1.5px;left:1872.21px;transform:scaleX(0.9945);">0.20–0.49 (efecto</div>
<div id="t202" class="t l tf" style="top:1762.02px;font-size:28.5px;word-spacing:-1.5px;left:30.61px;transform:scaleX(0.9926);">pequeño), 0.50–0.79 (efecto</div>
<div id="t203" class="t l tf" style="top:1762.02px;font-size:28.5px;word-spacing:-1.5px;left:389.72px;transform:scaleX(0.9921);">moderado) y ≥ 0.80</div>
<div id="t204" class="t l tf" style="top:1762.02px;font-size:28.5px;word-spacing:-1.5px;left:636.90px;transform:scaleX(0.9979);">(efecto grande).</div>
</div></body></html>
